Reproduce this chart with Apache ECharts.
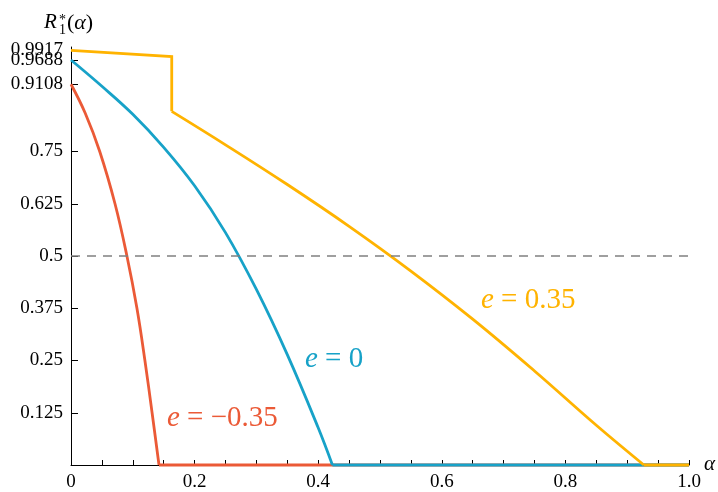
<!DOCTYPE html>
<html>
<head>
<meta charset="utf-8">
<script src="https://cdn.jsdelivr.net/npm/echarts@6/dist/echarts.min.js"></script>
<style>html,body{margin:0;padding:0;background:#fff}#c{width:718px;height:492px}</style>
</head>
<body>
<div id="c"></div>
<script>
// ---- data ----
const xLabelVals = [0, 0.2, 0.4, 0.6, 0.8, 1.0];
const xTickVals = [0,0.05,0.1,0.15,0.2,0.25,0.3,0.35,0.4,0.45,0.5,0.55,0.6,0.65,0.7,0.75,0.8,0.85,0.9,0.95,1.0];
const yTickVals = [0.125, 0.25, 0.375, 0.5, 0.625, 0.75, 0.9108, 0.9688, 0.9917];
const yLabelValsMain = [0.125, 0.25, 0.375, 0.5, 0.625, 0.75, 0.9108, 0.9688];
const yLabelValsTop = [0.9917];
const refLevel = 0.5;

// e = -0.35
const redX = [0, 0.0229, 0.0465, 0.0712, 0.0905, 0.1067, 0.1196, 0.1312, 0.1424];
const redY = [0.9108, 0.842, 0.75, 0.625, 0.5, 0.375, 0.25, 0.125, 0];
// e = 0
const blueX = [0, 0.05, 0.1, 0.15, 0.2, 0.25, 0.3, 0.35, 0.4, 0.423];
const blueY = [0.9688, 0.906, 0.839, 0.760, 0.668, 0.556, 0.42, 0.264, 0.089, 0];
// e = 0.35
const orangeTopX = [0, 0.163, 0.163];
const orangeTopY = [0.9917, 0.977, 0.846];
const orangeX = [0.163, 0.25, 0.35, 0.45, 0.55, 0.65, 0.75, 0.85, 0.927];
const orangeY = [0.846, 0.766, 0.671, 0.571, 0.464, 0.349, 0.225, 0.095, 0];
const xEnd = 1.0;

const RED = '#EB5A37', BLUE = '#17A2C8', ORANGE = '#FFB300';
const FONT = 'Liberation Serif';

const zip = (xs, ys) => xs.map((x, i) => [x, ys[i]]);

function lineSeries(data, color, smooth) {
  return {
    type: 'line', data: data, showSymbol: false, clip: false,
    smooth: smooth ? 0.4 : false,
    lineStyle: { color: color, width: 2.8, join: 'miter' }, itemStyle: { color: color },
    animation: false, silent: true
  };
}

function yAx(labels, showLine) {
  return {
    type: 'value', min: 0, max: 1, position: 'left',
    splitLine: { show: false },
    axisLine: { show: showLine, onZero: false, lineStyle: { color: '#000', width: 1 } },
    axisTick: { show: showLine, inside: true, length: 7, customValues: yTickVals, lineStyle: { color: '#000' } },
    axisLabel: {
      customValues: labels, margin: 8, hideOverlap: false,
      formatter: v => String(v),
      fontFamily: FONT, fontSize: 19, color: '#000'
    }
  };
}

const chart = echarts.init(document.getElementById('c'), null, { renderer: 'canvas' });
chart.setOption({
  animation: false,
  backgroundColor: '#fff',
  grid: { left: 71, right: 29, top: 47, bottom: 25 },
  xAxis: {
    type: 'value', min: 0, max: 1,
    splitLine: { show: false },
    axisLine: { show: true, onZero: false, lineStyle: { color: '#000', width: 1 } },
    axisTick: { show: true, inside: true, length: 5, customValues: xTickVals, lineStyle: { color: '#000' } },
    axisLabel: {
      customValues: xLabelVals, margin: 8, hideOverlap: false,
      formatter: v => v === 0 ? '0' : v.toFixed(1),
      fontFamily: FONT, fontSize: 19, color: '#000'
    }
  },
  yAxis: [yAx(yLabelValsMain, true), yAx(yLabelValsTop, false)],
  series: [
    lineSeries(zip(redX, redY), RED, true),
    lineSeries([[redX[redX.length - 1], 0], [xEnd, 0]], RED, false),
    lineSeries(zip(blueX, blueY), BLUE, true),
    lineSeries([[blueX[blueX.length - 1], 0], [xEnd, 0]], BLUE, false),
    lineSeries(zip(orangeTopX, orangeTopY), ORANGE, false),
    lineSeries(zip(orangeX, orangeY), ORANGE, true),
    lineSeries([[orangeX[orangeX.length - 1], 0], [xEnd, 0]], ORANGE, false),
    {
      type: 'line', data: [[0, refLevel], [xEnd, refLevel]], showSymbol: false, silent: true,
      lineStyle: { color: '#808080', width: 1.5, type: [9, 7] }, animation: false
    }
  ],
  graphic: [
    { type: 'text', left: 44, top: 12, style: { text: 'R', font: 'italic 21px "Liberation Serif"', fill: '#000' } },
    { type: 'text', left: 59, top: 13, style: { text: '*', font: '14px "Liberation Serif"', fill: '#000' } },
    { type: 'text', left: 59, top: 23, style: { text: '1', font: '14px "Liberation Serif"', fill: '#000' } },
    { type: 'text', left: 67, top: 12, style: {
        text: '{n|(}{i|α}{n|)}', rich: {
          n: { fontFamily: FONT, fontSize: 22, fill: '#000' },
          i: { fontFamily: FONT, fontSize: 22, fontStyle: 'italic', fill: '#000' } } } },
    { type: 'text', left: 704, top: 454, style: { text: 'α', font: 'italic 21px "Liberation Serif"', fill: '#000' } },
    { type: 'text', x: 167, y: 418, style: {
        text: '{i|e}{n| = −0.35}', verticalAlign: 'middle',
        rich: { i: { fontFamily: FONT, fontSize: 29, fontStyle: 'italic', fill: RED },
                n: { fontFamily: FONT, fontSize: 29, fill: RED } } } },
    { type: 'text', x: 305, y: 359, style: {
        text: '{i|e}{n| = 0}', verticalAlign: 'middle',
        rich: { i: { fontFamily: FONT, fontSize: 29, fontStyle: 'italic', fill: BLUE },
                n: { fontFamily: FONT, fontSize: 29, fill: BLUE } } } },
    { type: 'text', x: 481, y: 300, style: {
        text: '{i|e}{n| = 0.35}', verticalAlign: 'middle',
        rich: { i: { fontFamily: FONT, fontSize: 29, fontStyle: 'italic', fill: ORANGE },
                n: { fontFamily: FONT, fontSize: 29, fill: ORANGE } } } }
  ]
});
</script>
</body>
</html>
